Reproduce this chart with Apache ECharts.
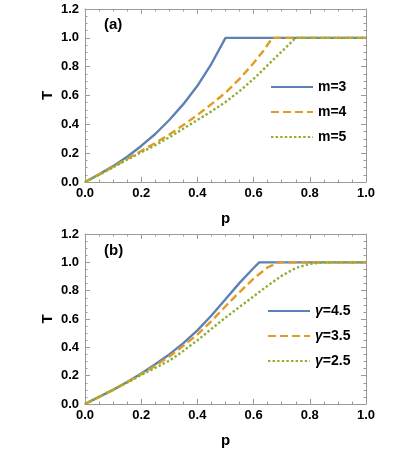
<!DOCTYPE html>
<html>
<head>
<meta charset="utf-8">
<script src="https://cdn.jsdelivr.net/npm/echarts@6/dist/echarts.min.js"></script>
<style>
  html, body { margin: 0; padding: 0; background: #fff; }
  #main { width: 415px; height: 449px; }
</style>
</head>
<body>
<div id="main"></div>
<script>
// panel (a): T vs p for m = 3, 4, 5
var pM3 = [0, 0.05, 0.1, 0.15, 0.2, 0.25, 0.3, 0.35, 0.4, 0.45, 0.5, 1.0];
var tM3 = [0, 0.053, 0.11, 0.175, 0.25, 0.333, 0.43, 0.54, 0.667, 0.82, 1.0, 1.0];
var pM4 = [0, 0.05, 0.1, 0.15, 0.2, 0.25, 0.3, 0.35, 0.4, 0.45, 0.5, 0.55, 0.6, 0.633, 0.667, 1.0];
var tM4 = [0, 0.051, 0.105, 0.16, 0.215, 0.27, 0.33, 0.395, 0.465, 0.54, 0.62, 0.715, 0.825, 0.905, 1.0, 1.0];
var pM5 = [0, 0.05, 0.1, 0.15, 0.2, 0.25, 0.3, 0.35, 0.4, 0.45, 0.5, 0.55, 0.6, 0.65, 0.7, 0.75, 1.0];
var tM5 = [0, 0.05, 0.102, 0.155, 0.205, 0.255, 0.31, 0.37, 0.43, 0.49, 0.555, 0.63, 0.715, 0.81, 0.905, 1.0, 1.0];

// panel (b): T vs p for gamma = 4.5, 3.5, 2.5
var pG45 = [0, 0.05, 0.1, 0.15, 0.2, 0.25, 0.3, 0.35, 0.4, 0.45, 0.5, 0.55, 0.6, 0.62, 1.0];
var tG45 = [0, 0.05, 0.1, 0.155, 0.215, 0.28, 0.35, 0.43, 0.52, 0.625, 0.74, 0.855, 0.96, 1.0, 1.0];
var pG35 = [0, 0.05, 0.1, 0.15, 0.2, 0.25, 0.3, 0.35, 0.4, 0.45, 0.5, 0.55, 0.6, 0.65, 0.69, 1.0];
var tG35 = [0, 0.05, 0.1, 0.155, 0.21, 0.27, 0.335, 0.41, 0.49, 0.585, 0.69, 0.79, 0.885, 0.965, 1.0, 1.0];
var pG25 = [0, 0.05, 0.1, 0.15, 0.2, 0.25, 0.3, 0.35, 0.4, 0.45, 0.5, 0.55, 0.6, 0.65, 0.7, 0.75, 0.8, 0.85, 1.0];
var tG25 = [0, 0.05, 0.1, 0.15, 0.205, 0.255, 0.305, 0.375, 0.45, 0.53, 0.61, 0.685, 0.76, 0.835, 0.905, 0.96, 0.99, 1.0, 1.0];

var namesA = ['m=3', 'm=4', 'm=5'];
var namesB = ['γ=4.5', 'γ=3.5', 'γ=2.5'];

var colors = ['#5E81B5', '#E19C24', '#8FB032'];
var frameColor = '#9a9a9a';
var font = 'Liberation Sans, Arial, sans-serif';

function pairs(px, ty) {
    return px.map(function (p, i) { return [p, ty[i]]; });
}

function frameAxis(grid, pos, max, extra) {
    var ax = {
        type: 'value', gridIndex: grid, position: pos,
        min: 0, max: max, interval: 0.2,
        axisLine: { show: true, onZero: false, lineStyle: { color: frameColor, width: 1 } },
        axisTick: { show: true, inside: true, length: 5, lineStyle: { color: frameColor } },
        minorTick: { show: true, splitNumber: 4, length: 2.5, lineStyle: { color: frameColor } },
        splitLine: { show: false },
        axisLabel: { show: false }
    };
    for (var k in extra) ax[k] = extra[k];
    return ax;
}

var nameStyle = { fontSize: 15, fontWeight: 'bold', color: '#000', fontFamily: font };
var tickLabel = function (margin) {
    return {
        show: true, margin: margin, fontSize: 13, fontWeight: 'bold', color: '#000', fontFamily: font,
        formatter: function (v) { return v.toFixed(1); }
    };
};

function mainX(grid) {
    return frameAxis(grid, 'bottom', 1, {
        name: 'p', nameLocation: 'middle', nameGap: 29, nameMoveOverlap: false,
        nameTextStyle: nameStyle, axisLabel: tickLabel(5)
    });
}
function mainY(grid) {
    return frameAxis(grid, 'left', 1.2, {
        name: 'T', nameLocation: 'middle', nameGap: 30, nameRotate: 90, nameMoveOverlap: false,
        nameTextStyle: nameStyle, axisLabel: tickLabel(6)
    });
}

var dashTypes = ['solid', [8, 4], [2.4, 2.2]];

function line(name, idx, axis, data) {
    return {
        name: name, type: 'line',
        xAxisIndex: axis, yAxisIndex: axis,
        data: data, symbol: 'none',
        lineStyle: { color: colors[idx], width: 2.4, type: dashTypes[idx] },
        itemStyle: { color: colors[idx] },
        z: 2 + idx
    };
}

function legendFor(names, top, left) {
    return {
        orient: 'vertical', left: left, top: top,
        data: names, itemWidth: 42, itemHeight: 14, itemGap: 11,
        padding: 0, selectedMode: false,
        itemStyle: { opacity: 0 },
        formatter: function (n) {
            return n.charAt(0) === 'γ' ? '{g|γ}' + n.slice(1) : n;
        },
        textStyle: {
            fontSize: 14, fontWeight: 'bold', color: '#000', fontFamily: font,
            rich: { g: { fontSize: 14, fontWeight: 'bold', fontStyle: 'italic', color: '#000', fontFamily: font } }
        }
    };
}

var chart = echarts.init(document.getElementById('main'));

var option = {
    animation: false,
    title: [
        { text: '(a)', left: 104, top: 17, padding: 0,
          textStyle: { fontSize: 15, fontWeight: 'bold', color: '#000', fontFamily: font } },
        { text: '(b)', left: 104, top: 243, padding: 0,
          textStyle: { fontSize: 15, fontWeight: 'bold', color: '#000', fontFamily: font } }
    ],
    legend: [
        legendFor(namesA, 80, 270),
        legendFor(namesB, 304, 267)
    ],
    grid: [
        { left: 85, top: 9, width: 281, height: 173 },
        { left: 85, top: 234, width: 281, height: 173 }
    ],
    xAxis: [mainX(0), mainX(1), frameAxis(0, 'top', 1, {}), frameAxis(1, 'top', 1, {})],
    yAxis: [mainY(0), mainY(1), frameAxis(0, 'right', 1.2, {}), frameAxis(1, 'right', 1.2, {})],
    series: [
        line(namesA[0], 0, 0, pairs(pM3, tM3)),
        line(namesA[1], 1, 0, pairs(pM4, tM4)),
        line(namesA[2], 2, 0, pairs(pM5, tM5)),
        line(namesB[0], 0, 1, pairs(pG45, tG45)),
        line(namesB[1], 1, 1, pairs(pG35, tG35)),
        line(namesB[2], 2, 1, pairs(pG25, tG25))
    ]
};

chart.setOption(option);
</script>
</body>
</html>
